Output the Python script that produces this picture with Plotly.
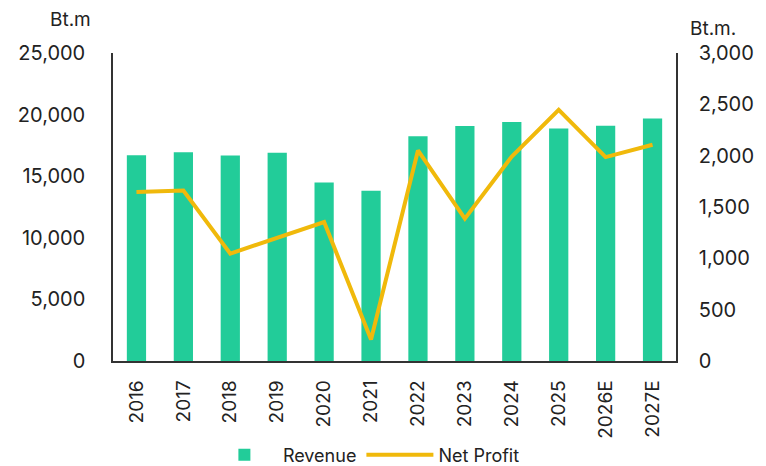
import plotly.graph_objects as go

years = ["2016", "2017", "2018", "2019", "2020", "2021", "2022", "2023", "2024", "2025", "2026E", "2027E"]
revenue = [16700, 16950, 16680, 16900, 14490, 13820, 18250, 19080, 19400, 18870, 19100, 19680]
net_profit = [1645, 1660, 1046, 1200, 1354, 209, 2051, 1386, 1992, 2446, 1986, 2106]
left_ticks = [0, 5000, 10000, 15000, 20000, 25000]
right_ticks = [0, 500, 1000, 1500, 2000, 2500, 3000]

FONT = "Inter"
fig = go.Figure()
fig.add_trace(go.Bar(x=years, y=revenue, name="Revenue", marker_color="#22CC99",
                     marker_line_width=0, yaxis="y"))
fig.add_trace(go.Scatter(x=years, y=net_profit, name="Net Profit", mode="lines",
                         line=dict(color="#F0B90B", width=4), yaxis="y2"))

fig.update_layout(
    width=766, height=466,
    margin=dict(l=105, r=98, t=45, b=113, autoexpand=False),
    plot_bgcolor="white", paper_bgcolor="white",
    font=dict(family=FONT, size=20, color="#222222"),
    bargap=0.59,
    showlegend=True,
    legend=dict(orientation="h", x=0.165, xanchor="left", y=-0.305, yanchor="middle",
                font=dict(size=18), itemwidth=67),
    xaxis=dict(type="category", tickangle=-90, showline=True, linecolor="#333333",
               linewidth=1.5, ticks="", tickfont=dict(size=19), automargin=False,
               ticklabelstandoff=10),
    yaxis=dict(range=[0, 25000], tickvals=left_ticks, tickformat=",", showgrid=False,
               showline=True, linecolor="#333333", linewidth=1.5, ticks="",
               ticklabelstandoff=22, zeroline=False, automargin=False),
    yaxis2=dict(range=[0, 3000], tickvals=right_ticks, tickformat=",", overlaying="y",
                side="right", showgrid=False, showline=True, linecolor="#333333",
                linewidth=1.5, ticks="", ticklabelstandoff=17, zeroline=False,
                automargin=False),
    annotations=[
        dict(text="Bt.m", xref="paper", yref="paper", x=-0.0355, y=1.108, xanchor="right",
             yanchor="middle", showarrow=False, font=dict(size=19)),
        dict(text="Bt.m.", xref="paper", yref="paper", x=1.021, y=1.081, xanchor="left",
             yanchor="middle", showarrow=False, font=dict(size=19)),
    ],
)

fig.write_html("out.html")
